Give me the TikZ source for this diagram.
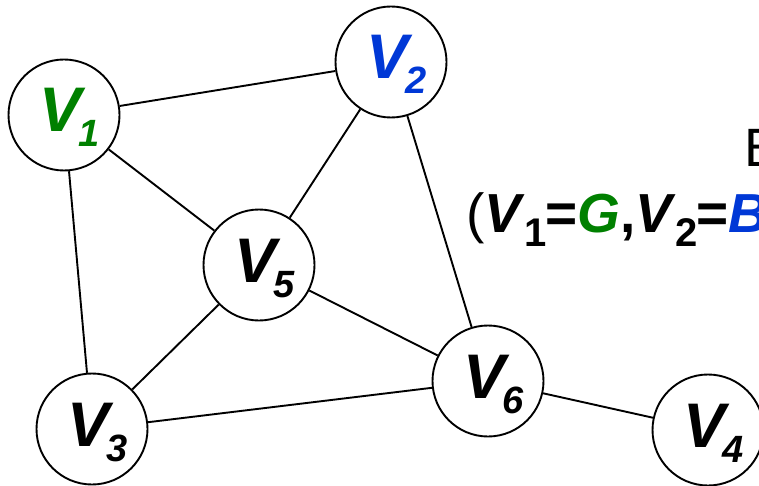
\documentclass[tikz,border=0pt]{standalone}
\usepackage{fontspec}
\setmainfont{Liberation Sans}
\definecolor{vgreen}{RGB}{0,128,0}
\definecolor{vblue}{RGB}{0,56,214}
\newcommand{\vlab}[3][black]{\hspace*{-10pt}\textcolor{#1}{\fontsize{63}{63}\selectfont\bfseries\itshape V\kern-3pt\rlap{\raisebox{-15pt}{\fontsize{38}{38}\selectfont\itshape #2}}}}
\newcommand{\rowsub}[1]{\kern-1pt\raisebox{-14pt}{\fontsize{40}{40}\selectfont\bfseries #1}\kern-1pt}
\tikzset{
  vert/.style={circle, draw, fill=white, line width=1.9pt, minimum size=111pt, inner sep=0pt, text height=34pt, text depth=0pt},
  edge/.style={line width=1.9pt}
}
\begin{document}
\begin{tikzpicture}[x=1pt,y=-1pt]
\clip (0,0) rectangle (759,486);
\fill[white] (0,0) rectangle (759,486);
\node[vert] (v1) at (64,115) {\vlab[vgreen]{1}{}};
\node[vert] (v2) at (391,62) {\vlab[vblue]{2}{}};
\node[vert] (v3) at (92,429) {\vlab{3}{}};
\node[vert] (v4) at (708,430) {\vlab{4}{}};
\node[vert] (v5) at (259,265) {\vlab{5}{}};
\node[vert] (v6) at (488,381) {\vlab{6}{}};
\draw[edge] (v1) -- (v2);
\draw[edge] (v1) -- (v5);
\draw[edge] (v1) -- (v3);
\draw[edge] (v2) -- (v5);
\draw[edge] (v2) -- (v6);
\draw[edge] (v5) -- (v3);
\draw[edge] (v5) -- (v6);
\draw[edge] (v3) -- (v6);
\draw[edge] (v6) -- (v4);
\node[anchor=base west, inner sep=0pt] (hdr) at (744,167) {\fontsize{54}{54}\selectfont B};
\node[anchor=base west, inner sep=0pt] (expr) at (466,232) {\fontsize{55}{55}\selectfont (\textbf{\textit{V}}\rowsub{1}\textbf{=}\textcolor{vgreen}{\textbf{\textit{G}}}\textbf{,}\textbf{\textit{V}}\rowsub{2}\textbf{=}\textcolor{vblue}{\textbf{\textit{B}}}};
\end{tikzpicture}
\end{document}
